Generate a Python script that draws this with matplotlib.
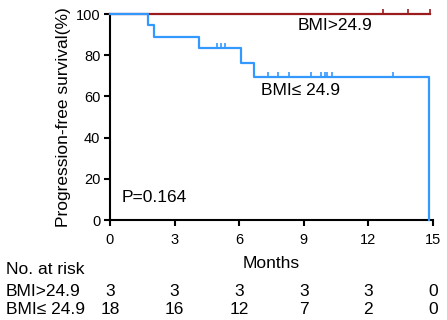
import numpy as np
import matplotlib.pyplot as plt

plt.rcParams['font.family'] = ['Liberation Sans', 'DejaVu Sans']

# follow-up times (months) and event flags (1 = progression, 0 = censored)
hi_times = [12.68, 13.86, 14.88]
hi_events = [0, 0, 0]
lo_times = [1.77, 2.06, 4.15, 4.96, 5.16, 5.36, 6.1, 6.71, 7.33, 7.8, 8.33,
            9.33, 9.8, 10.0, 10.07, 10.31, 13.12, 14.82]
lo_events = [1, 1, 1, 0, 0, 0, 1, 1, 0, 0, 0, 0, 0, 0, 0, 0, 0, 1]

risk_times = [0, 3, 6, 9, 12, 15]
risk_hi = [3, 3, 3, 3, 3, 0]
risk_lo = [18, 16, 12, 7, 2, 0]
labels = ["BMI>24.9", "BMI\u2264 24.9"]
colors = ["#9b1c1c", "#3399ff"]

FS = 12.5


def km(times, events):
    t = np.array(times)
    e = np.array(events)
    order = np.argsort(t)
    t, e = t[order], e[order]
    n = len(t)
    xs, ys = [0.0], [100.0]
    s = 100.0
    cens_x, cens_y = [], []
    for i in range(n):
        at_risk = n - i
        if e[i] == 1:
            xs.append(t[i]); ys.append(s)
            s = s * (at_risk - 1) / at_risk
            xs.append(t[i]); ys.append(s)
        else:
            cens_x.append(t[i]); cens_y.append(s)
    xs.append(t[-1]); ys.append(s)
    return xs, ys, cens_x, cens_y


fig = plt.figure(figsize=(4.47, 3.2), dpi=100)
ax_bottom = 1 - 220 / 320
ax_h = (220 - 14) / 320
ax = fig.add_axes([110 / 447, ax_bottom, 323 / 447, ax_h])

for times, events, c in [(hi_times, hi_events, colors[0]), (lo_times, lo_events, colors[1])]:
    xs, ys, cx, cy = km(times, events)
    ax.plot(xs, ys, color=c, lw=1.6, clip_on=False, zorder=3)
    ax.vlines(cx, np.array(cy), np.array(cy) + 2.4, color=c, lw=1.2, clip_on=False, zorder=3)

ax.set_xlim(0, 15)
ax.set_ylim(0, 100)
ax.set_xticks(risk_times)
ax.set_yticks([0, 20, 40, 60, 80, 100])
for s in ['top', 'right']:
    ax.spines[s].set_visible(False)
for s in ['left', 'bottom']:
    ax.spines[s].set_linewidth(1.5)
ax.tick_params(width=1.5, length=4, labelsize=10.5)
ax.tick_params(axis='x', pad=5)
ax.tick_params(axis='y', pad=3)
ax.set_xlabel("Months", fontsize=FS, labelpad=7)
ax.set_ylabel("Progression-free survival(%)", fontsize=FS, labelpad=3)

ax.text(8.7, 94.5, labels[0], fontsize=FS, va='center')
ax.text(7.0, 63, labels[1], fontsize=FS, va='center')
ax.text(0.56, 10.7, "P=0.164", fontsize=FS, va='center')

fig.text(6 / 447, 1 - 269 / 320, "No. at risk", fontsize=FS, va='center')
for row, (lab, vals) in enumerate([(labels[0], risk_hi), (labels[1], risk_lo)]):
    yf = 1 - (291 + 19 * row) / 320
    ya = (yf - ax_bottom) / ax_h
    fig.text(6 / 447, yf, lab, fontsize=FS, va='center')
    for t, v in zip(risk_times, vals):
        ax.text(t, ya, str(v), fontsize=FS,
                ha='center', va='center', transform=ax.get_xaxis_transform(),
                clip_on=False)

fig.savefig("out.png", dpi=100)
